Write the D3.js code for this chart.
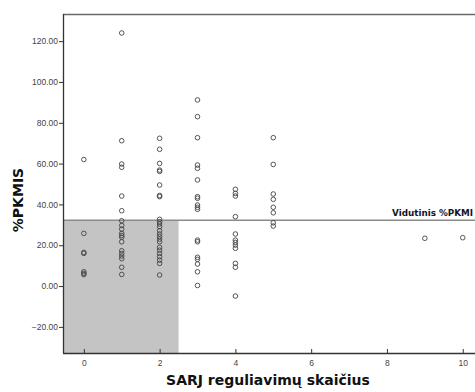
<!DOCTYPE html>
<html>
<head>
<meta charset="utf-8">
<script src="https://cdn.jsdelivr.net/npm/d3@7"></script>
<style>
  html, body { margin: 0; padding: 0; background: #fff; }
  svg { display: block; }
</style>
</head>
<body>
<svg id="chart" width="475" height="392"></svg>
<script>
// Number of SARJ adjustments (one entry per group)
const adjustCounts = [0, 1, 2, 3, 4, 5, 9, 10];
// %PKMIS of each case, grouped by adjustment count
const pkmis0 = [62, 25.8, 16.5, 16, 7, 6.2, 5.6];
const pkmis1 = [124, 71.2, 59.8, 58.2, 44.1, 36.9, 32, 29.7, 27.9, 25.8, 24.8, 23.9, 21.7, 17.3, 16, 14.7, 13.4, 9.2, 5.7];
const pkmis2 = [72.4, 67, 60.1, 56.8, 56.2, 49.5, 44.4, 43.8, 32.7, 31.5, 30.4, 29.1, 27.1, 25.5, 24.2, 23, 21.7, 19, 17.6, 16, 14.4, 12.7, 11.1, 5.4];
const pkmis3 = [91.2, 83, 72.7, 59.3, 57.7, 52, 43.8, 43, 39.7, 38.6, 37.6, 22.5, 21.7, 14.1, 13.1, 10.8, 7, 0.3];
const pkmis4 = [47.4, 45.4, 44.1, 34, 25.5, 22.5, 21.4, 20.1, 18.5, 11.1, 9.2, -4.9];
const pkmis5 = [72.7, 59.6, 45.1, 42.5, 38.6, 35.9, 31, 29.4];
const pkmis9 = [23.4];
const pkmis10 = [23.7];
const pkmisGroups = [pkmis0, pkmis1, pkmis2, pkmis3, pkmis4, pkmis5, pkmis9, pkmis10];

// Mean reference line and shaded region bound
const meanValue = 32.3;
const shadeMaxX = 2.5;
const meanLabel = "Vidutinis %PKMI";
const xTicks = [0, 2, 4, 6, 8, 10];
const yTicks = [-20, 0, 20, 40, 60, 80, 100, 120];
const xTitle = "SARJ reguliavimų skaičius";
const yTitle = "%PKMIS";

const points = adjustCounts.flatMap((c, i) => pkmisGroups[i].map(v => ({ x: c, y: v })));

const svg = d3.select("#chart");
const plot = { left: 63, top: 14, right: 490, bottom: 353 };

const x = d3.scaleLinear().domain([-0.55, 10.72]).range([plot.left, plot.right]);
const y = d3.scaleLinear().domain([-32.8, 133.3]).range([plot.bottom, plot.top]);

svg.append("defs").append("clipPath").attr("id", "plotClip")
  .append("rect")
  .attr("x", plot.left).attr("y", plot.top)
  .attr("width", plot.right - plot.left).attr("height", plot.bottom - plot.top);

const body = svg.append("g").attr("clip-path", "url(#plotClip)");

// Shaded region below the mean for counts up to 2.5
body.append("rect")
  .attr("x", x(-0.55))
  .attr("y", y(meanValue))
  .attr("width", x(shadeMaxX) - x(-0.55))
  .attr("height", y(-32.8) - y(meanValue))
  .attr("fill", "#c4c4c4");

// Mean line
body.append("line")
  .attr("x1", plot.left).attr("x2", plot.right)
  .attr("y1", y(meanValue)).attr("y2", y(meanValue))
  .attr("stroke", "#8a8a8a").attr("stroke-width", 1.5);

body.append("text")
  .attr("x", 392)
  .attr("y", y(meanValue) - 4)
  .attr("font-family", "DejaVu Sans")
  .attr("font-weight", "bold")
  .attr("font-size", 8.8)
  .attr("fill", "#141428")
  .text(meanLabel);

// Points
body.selectAll("circle.pt")
  .data(points)
  .join("circle")
  .attr("class", "pt")
  .attr("cx", d => x(d.x))
  .attr("cy", d => y(d.y))
  .attr("r", 2.3)
  .attr("fill", "none")
  .attr("stroke", "#444")
  .attr("stroke-width", 0.9);

// Frame top
svg.append("line")
  .attr("x1", plot.left).attr("x2", plot.right)
  .attr("y1", plot.top + 0.5).attr("y2", plot.top + 0.5)
  .attr("stroke", "#6a6a6a").attr("stroke-width", 1.5);

// Axes
const xAxis = d3.axisBottom(x).tickValues(xTicks).tickSize(4).tickPadding(2)
  .tickFormat(d3.format("d"));
const yAxis = d3.axisLeft(y).tickValues(yTicks).tickSize(4).tickPadding(1)
  .tickFormat(d3.format(".2f"));

const gx = svg.append("g").attr("transform", `translate(0,${plot.bottom})`).call(xAxis);
gx.select(".domain").attr("d", `M${plot.left},0.5H${plot.right}`).attr("stroke", "#333").attr("stroke-width", 1.3);
gx.selectAll(".tick line").attr("y1", -4).attr("y2", 0).attr("stroke", "#333");
gx.selectAll(".tick text").attr("y", 7).attr("dy", "0.71em")
  .attr("font-family", "Liberation Sans, Arial").attr("font-size", 8.5).attr("fill", "#444");

const gy = svg.append("g").attr("transform", `translate(${plot.left},0)`).call(yAxis);
gy.select(".domain").attr("d", `M0.5,${plot.top}V${plot.bottom}`).attr("stroke", "#333").attr("stroke-width", 1.3);
gy.selectAll(".tick line").attr("stroke", "#333");
gy.selectAll(".tick text")
  .attr("font-family", "Liberation Sans, Arial").attr("font-size", 8.5).attr("fill", "#444");

// Axis titles
svg.append("text")
  .attr("x", 268).attr("y", 385)
  .attr("text-anchor", "middle")
  .attr("font-family", "DejaVu Sans")
  .attr("font-weight", "bold")
  .attr("font-size", 14)
  .attr("fill", "#111")
  .text(xTitle);

svg.append("text")
  .attr("transform", "translate(23,200) rotate(-90)")
  .attr("text-anchor", "middle")
  .attr("font-family", "DejaVu Sans")
  .attr("font-weight", "bold")
  .attr("font-size", 14)
  .attr("fill", "#111")
  .text(yTitle);
</script>
</body>
</html>
